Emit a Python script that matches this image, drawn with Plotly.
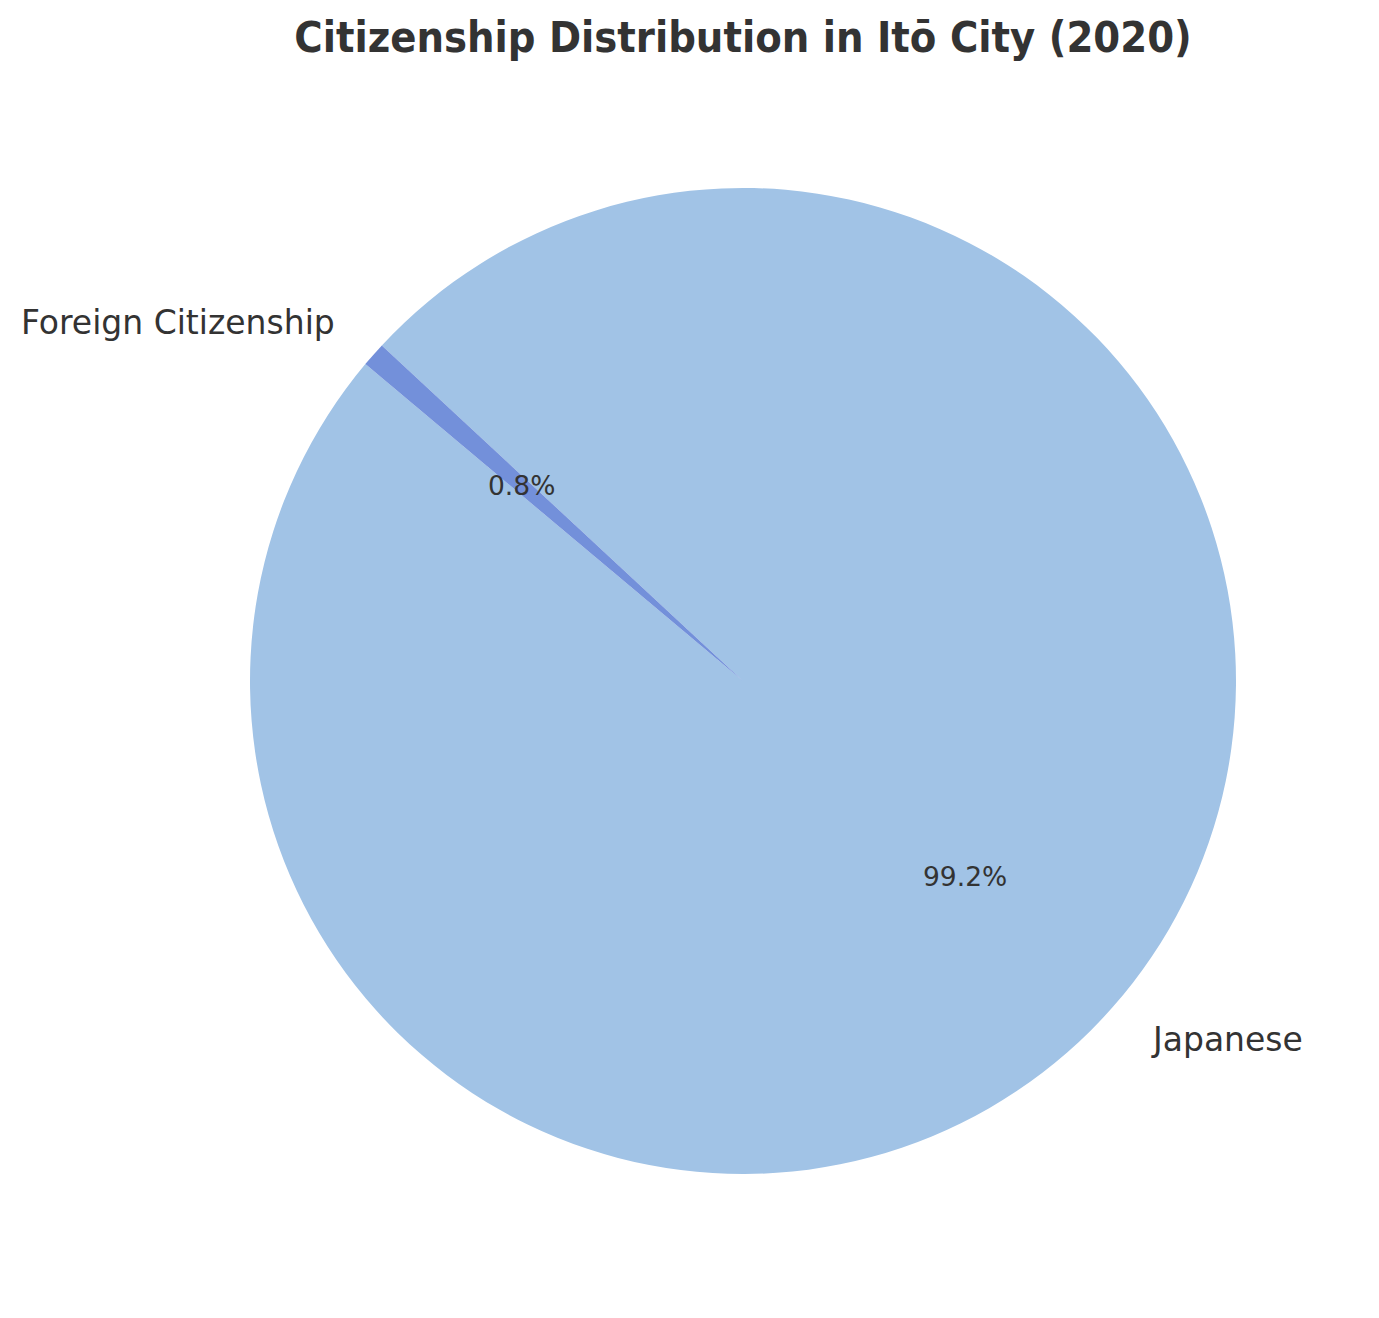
import math
import plotly.graph_objects as go

# Data
categories = ["Japanese", "Foreign Citizenship"]
population = [67795, 550]
colors = ["#A1C3E6", "#7390DA"]

START_ANGLE = 140  # degrees, math convention (counter-clockwise from 3 o'clock)
W, H = 1379, 1318
OFF = 8  # page body margin offset
L, R, T, B = 250 - OFF, 143 + OFF, 188 - OFF, 144 + OFF

total = sum(population)
fracs = [v / total for v in population]

# Plotly (counterclockwise) ends the first slice at `rotation` (clockwise from 12 o'clock);
# the first slice should start at START_ANGLE, so it ends at START_ANGLE + its span.
end_first = START_ANGLE + fracs[0] * 360
rot = 90 - end_first
while rot < -360:
    rot += 360
while rot > 360:
    rot -= 360

fig = go.Figure()
fig.add_trace(go.Pie(
    labels=categories,
    values=population,
    sort=False,
    direction="counterclockwise",
    rotation=rot,
    marker=dict(colors=colors, line=dict(width=0)),
    textinfo="none",
    hoverinfo="label+percent",
    showlegend=False,
    domain=dict(x=[0, 1], y=[0, 1]),
))

annotations = []
acc = START_ANGLE
for cat, f in zip(categories, fracs):
    mid = math.radians(acc + f * 360 / 2)
    acc += f * 360
    c, s = math.cos(mid), math.sin(mid)
    # percentage inside at 0.6 r
    annotations.append(dict(
        x=0.5 + 0.5 * 0.6 * c, y=0.5 + 0.5 * 0.6 * s,
        xref="paper", yref="paper", showarrow=False,
        text=f"{f*100:.1f}%", xanchor="center", yanchor="middle",
        font=dict(family="DejaVu Sans", size=26.5, color="#333333"),
    ))
    # label outside at 1.1 r
    annotations.append(dict(
        x=0.5 + 0.5 * 1.1 * c, y=0.5 + 0.5 * 1.1 * s,
        xref="paper", yref="paper", showarrow=False,
        text=cat, xanchor="left" if c > 0 else "right", yanchor="middle",
        font=dict(family="DejaVu Sans", size=33, color="#333333"),
    ))

fig.update_layout(
    width=W, height=H,
    margin=dict(l=L, r=R, t=T, b=B),
    paper_bgcolor="white",
    plot_bgcolor="white",
    title=dict(
        text="<b>Citizenship Distribution in Itō City (2020)</b>",
        x=(743 - OFF) / W, xanchor="center", xref="container",
        y=1 - (37 - OFF) / H, yanchor="middle", yref="container",
        font=dict(family="DejaVu Sans Condensed, DejaVu Sans", size=43, color="#333333"),
    ),
    annotations=annotations,
)

fig.write_html("out.html")
